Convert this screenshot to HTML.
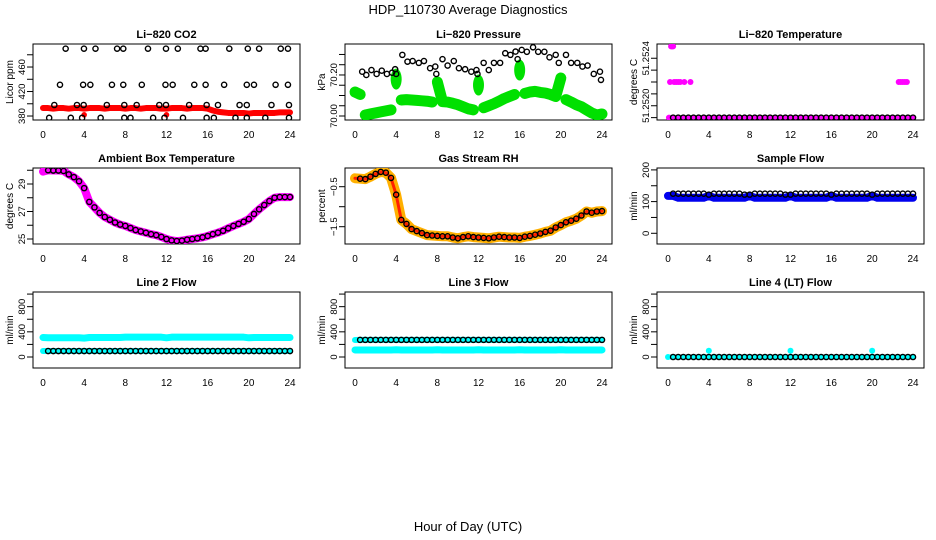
<!DOCTYPE html>
<html><head><meta charset="utf-8"><title>HDP_110730 Average Diagnostics</title>
<style>
html,body{margin:0;padding:0;background:#fff;}
svg{display:block;font-family:"Liberation Sans",Arial,sans-serif;}
</style></head>
<body>
<svg id="chart" width="936" height="540" viewBox="0 0 936 540" xmlns="http://www.w3.org/2000/svg">
<rect x="0" y="0" width="936" height="540" fill="#fff"/>
<text x="468" y="14" font-size="13" text-anchor="middle">HDP_110730  Average Diagnostics</text>
<text x="468" y="531" font-size="13" text-anchor="middle">Hour of Day (UTC)</text>
</svg>
<script>
const HOURS = [0,0.5,1,1.5,2,2.5,3,3.5,4,4.5,5,5.5,6,6.5,7,7.5,8,8.5,9,9.5,10,10.5,11,11.5,12,12.5,13,13.5,14,14.5,15,15.5,16,16.5,17,17.5,18,18.5,19,19.5,20,20.5,21,21.5,22,22.5,23,23.5,24];
const X_TICKS = [0,4,8,12,16,20,24];

// CO2
const co2Red = [393,393,392,393,393,392,393,393,392,393,393,393,392,393,393,393,392,393,393,392,393,393,393,392,392,393,393,393,392,393,393,393,392,389,387,386,385,385,385,385,384,385,385,385,385,385,386,386,386];
const co2BlackX = [2.2,3.98,5.1,7.2,7.8,10.2,11.95,13.1,15.3,15.8,18.1,19.9,21,23.1,23.8, 1.65,3.9,4.6,6.7,7.8,9.6,11.9,12.6,14.7,15.8,17.6,19.8,20.5,22.6,23.8, 1.1,3.3,3.95,6.2,7.9,9.1,11.3,11.95,14.2,15.9,17.0,19.1,19.8,22.2,23.9, 0.6,2.7,3.8,5.6,7.9,8.5,10.7,11.8,13.6,15.9,16.6,18.7,19.8,21.6,23.9];
const co2BlackY = [490,490,490,490,490,490,490,490,490,490,490,490,490,490,490, 431,431,431,431,431,431,431,431,431,431,431,431,431,431,431, 398,398,398,398,398,398,398,398,398,398,398,398,398,398,398, 377,377,377,377,377,377,377,377,377,377,377,377,377,377,377];
const co2RedX = [4.0,12.0];
const co2RedY = [382,382];

// Pressure
const presGreen = [70.117,70.105,70.005,70.010,70.015,70.020,70.025,70.030,70.180,70.078,70.080,70.078,70.076,70.074,70.072,70.068,70.166,70.070,70.068,70.062,70.055,70.045,70.035,70.030,70.151,70.040,70.050,70.060,70.072,70.085,70.095,70.105,70.224,70.110,70.117,70.120,70.115,70.112,70.105,70.095,70.185,70.080,70.068,70.055,70.045,70.030,70.015,70.005,70.010];
const presBlackX = [0.7,1.1,1.6,2.1,2.6,3.1,3.6,3.9,4.0,4.6,5.1,5.6,6.2,6.7,7.3,7.8,7.9,8.5,9.0,9.6,10.1,10.7,11.3,11.8,11.9,12.5,13.0,13.5,14.1,14.6,15.1,15.6,15.8,16.2,16.7,17.3,17.8,18.4,18.9,19.5,19.8,20.5,21.0,21.6,22.1,22.6,23.2,23.8,23.9];
const presBlackY = [70.216,70.200,70.224,70.205,70.221,70.205,70.211,70.228,70.205,70.298,70.265,70.268,70.259,70.268,70.233,70.241,70.205,70.277,70.246,70.268,70.233,70.228,70.216,70.224,70.205,70.259,70.224,70.259,70.259,70.306,70.298,70.314,70.277,70.322,70.313,70.335,70.313,70.313,70.286,70.298,70.259,70.298,70.259,70.259,70.241,70.246,70.205,70.216,70.176];

// Li-820 temperature
const ltMagX = [0.1,0.3,0.4,0.5,0.2,0.6,0.8,1.0,1.2,1.6,2.2,22.6,22.8,23.0,23.2,23.4];
const ltMagY = [51.2519,51.2525,51.2525,51.2525,51.2522,51.2522,51.2522,51.2522,51.2522,51.2522,51.2522,51.2522,51.2522,51.2522,51.2522,51.2522];
const ltBlack = [null,51.2519,51.2519,51.2519,51.2519,51.2519,51.2519,51.2519,51.2519,51.2519,51.2519,51.2519,51.2519,51.2519,51.2519,51.2519,51.2519,51.2519,51.2519,51.2519,51.2519,51.2519,51.2519,51.2519,51.2519,51.2519,51.2519,51.2519,51.2519,51.2519,51.2519,51.2519,51.2519,51.2519,51.2519,51.2519,51.2519,51.2519,51.2519,51.2519,51.2519,51.2519,51.2519,51.2519,51.2519,51.2519,51.2519,51.2519,51.2519];

// Ambient box temperature
const ambTemp = [29.9,30.0,29.98,29.98,29.95,29.7,29.5,29.2,28.7,27.7,27.3,26.9,26.6,26.4,26.2,26.05,25.95,25.8,25.65,25.55,25.45,25.35,25.28,25.15,25.0,24.9,24.85,24.88,24.95,25.0,25.05,25.12,25.22,25.35,25.46,25.6,25.78,25.95,26.1,26.25,26.45,26.82,27.16,27.47,27.76,28.0,28.05,28.05,28.05];

// Gas stream RH
const rhVals = [-0.29,-0.3,-0.31,-0.25,-0.18,-0.13,-0.15,-0.28,-0.7,-1.33,-1.43,-1.56,-1.61,-1.66,-1.71,-1.72,-1.73,-1.74,-1.74,-1.77,-1.79,-1.76,-1.74,-1.76,-1.77,-1.78,-1.79,-1.77,-1.75,-1.76,-1.77,-1.77,-1.78,-1.75,-1.73,-1.7,-1.67,-1.63,-1.6,-1.52,-1.46,-1.39,-1.35,-1.3,-1.22,-1.12,-1.15,-1.12,-1.11];

// Flows
const sampleBlue = [118,118,112,112,112,112,112,112,118,112,112,112,112,112,112,112,118,112,112,112,112,112,112,112,118,112,112,112,112,112,112,112,118,112,112,112,112,112,112,112,118,112,112,112,112,112,112,112,112];
const sampleBlack = [null,125,125,125,125,125,125,125,122,125,125,125,125,125,125,122,122,125,125,125,125,125,125,122,122,125,125,125,125,125,125,125,122,125,125,125,125,125,125,125,122,125,125,125,125,125,125,125,125];
const line2Cyan = [310,305,305,305,305,305,305,305,300,310,310,310,310,310,310,310,315,315,315,315,315,315,315,315,305,315,315,315,315,315,315,315,315,315,315,315,315,315,315,315,305,310,310,310,310,310,310,310,310];
const line2Black = [null,95,95,95,95,95,95,95,95,95,95,95,95,95,95,95,95,95,95,95,95,95,95,95,95,95,95,95,95,95,95,95,95,95,95,95,95,95,95,95,95,95,95,95,95,95,95,95,95];
const line3Cyan = [112,112,112,112,112,112,112,112,115,112,112,112,112,112,112,112,115,112,112,112,112,112,112,112,115,112,112,112,112,112,112,112,115,112,112,112,112,112,112,112,115,112,112,112,112,112,112,112,112];
const line3Black = [270,272,272,272,272,272,272,272,272,272,272,272,272,272,272,272,272,272,272,272,272,272,272,272,272,272,272,272,272,272,272,272,272,272,272,272,272,272,272,272,272,272,272,272,272,272,272,272,272];
const line4Cyan = [0,0,0,0,0,0,0,0,100,0,0,0,0,0,0,0,0,0,0,0,0,0,0,0,100,0,0,0,0,0,0,0,0,0,0,0,0,0,0,0,100,0,0,0,0,0,0,0,0];
const line4Black = [null,0,0,0,0,0,0,0,0,0,0,0,0,0,0,0,0,0,0,0,0,0,0,0,0,0,0,0,0,0,0,0,0,0,0,0,0,0,0,0,0,0,0,0,0,0,0,0,0];

const svg = document.getElementById('chart');
const NS = 'http://www.w3.org/2000/svg';
function mk(tag, attrs, parent) {
  const e = document.createElementNS(NS, tag);
  for (const k in attrs) e.setAttribute(k, attrs[k]);
  (parent || svg).appendChild(e);
  return e;
}

const COLS = [{bx0:33,bx1:300,h0:43,h24:290,lab:21,tit:9},{bx0:345,bx1:612,h0:355,h24:602,lab:333,tit:321},{bx0:657,bx1:924,h0:668,h24:913,lab:645,tit:633}];
const ROWS = [{by0:44,by1:120},{by0:168,by1:244},{by0:292,by1:368}];

function makePanel(name, title, col, row, dmin, dmax, yTicks, yLabels, yTitle) {
  const c = COLS[col], r = ROWS[row];
  const g = mk('g', {});
  
  
  const P = {
    g: g,
    x: h => c.h0 + h * (c.h24 - c.h0) / 24,
    y: v => r.by1 - (v - dmin) / (dmax - dmin) * (r.by1 - r.by0)
  };
  const t = mk('text', {x:(c.bx0+c.bx1)/2, y:r.by0-6, 'font-size':11, 'font-weight':'bold', 'text-anchor':'middle'}, g);
  
  
  t.textContent = title;
  const frame = mk('rect', {x:c.bx0, y:r.by0, width:c.bx1-c.bx0, height:r.by1-r.by0, fill:'none', stroke:'#000', 'stroke-width':1}, g);
  
  
  X_TICKS.forEach(h => {
    const tl = mk('text', {x:P.x(h), y:r.by1+18, 'font-size':10, 'text-anchor':'middle'}, g);
    
    
    tl.textContent = h;
  });
  yTicks.forEach(v => {
    const yy = P.y(v);
    const tk = mk('line', {x1:c.bx0-6, x2:c.bx0, y1:yy, y2:yy, stroke:'#000', 'stroke-width':1}, g);
    
    
  });
  yLabels.forEach(l => {
    const yy = P.y(l[0]);
    const tl = mk('text', {x:c.lab+4, y:yy, 'font-size':9.5, 'text-anchor':'middle', transform:'rotate(-90 '+(c.lab+4)+' '+yy+')'}, g);
    
    
    tl.textContent = l[1];
  });
  const yt = mk('text', {x:c.tit+4, y:(r.by0+r.by1)/2, 'font-size':10, 'text-anchor':'middle', transform:'rotate(-90 '+(c.tit+4)+' '+((r.by0+r.by1)/2)+')'}, g);
  
  
  yt.textContent = yTitle;
  const clip = mk('clipPath', {id:'clip-'+name}, g);
  mk('rect', {x:c.bx0, y:r.by0, width:c.bx1-c.bx0, height:r.by1-r.by0}, clip);
  P.plot = mk('g', {'clip-path':'url(#clip-'+name+')'}, g);
  return P;
}

function band(P, xs, ys, color, w, jump, name) {
  let seg = [];
  const segs = [];
  for (let i = 0; i < xs.length; i++) {
    if (ys[i] === null) continue;
    const pt = [P.x(xs[i]), P.y(ys[i])];
    if (seg.length && Math.abs(pt[1] - seg[seg.length-1][1]) > jump) { segs.push(seg); seg = []; }
    seg.push(pt);
  }
  if (seg.length) segs.push(seg);
  segs.forEach(s => {
    if (s.length === 1) {
      const d = mk('ellipse', {cx:s[0][0], cy:s[0][1], rx:w/2, ry:w/2+5, fill:color}, P.plot);
      
      
    } else {
      const pl = mk('polyline', {points:s.map(p=>p.join(',')).join(' '), fill:'none', stroke:color, 'stroke-width':w, 'stroke-linecap':'round', 'stroke-linejoin':'round'}, P.plot);
      
      
    }
  });
}
function dots(P, xs, ys, color, rad, name) {
  for (let i = 0; i < xs.length; i++) {
    if (ys[i] === null) continue;
    const d = mk('circle', {cx:P.x(xs[i]), cy:P.y(ys[i]), r:rad, fill:color}, P.plot);
    
    
  }
}
function rings(P, xs, ys, color, name) {
  for (let i = 0; i < xs.length; i++) {
    if (ys[i] === null) continue;
    const d = mk('circle', {cx:P.x(xs[i]), cy:P.y(ys[i]), r:2.6, fill:'none', stroke:color, 'stroke-width':1.4}, P.plot);
    
    
  }
}

// Panel 1: CO2
let P = makePanel('co2-panel', 'Li\u2212820 CO2', 0, 0, 373.5, 497.6, [380,400,420,440,460,480], [[380,'380'],[420,'420'],[460,'460']], 'Licor ppm');
band(P, HOURS, co2Red, '#ff0000', 6, 20, 'co2-red');
dots(P, co2RedX, co2RedY, '#ff0000', 2.8, 'co2-red-outlier');
rings(P, co2BlackX, co2BlackY, '#000', 'co2-black-point');

// Panel 2: Pressure
P = makePanel('pressure-panel', 'Li\u2212820 Pressure', 1, 0, 69.9805, 70.351, [70.0,70.05,70.1,70.15,70.2,70.25,70.3], [[70.0,'70.00'],[70.2,'70.20']], 'kPa');
band(P, HOURS, presGreen, '#00e000', 11, 20, 'pressure-green');
rings(P, presBlackX, presBlackY, '#000', 'pressure-black-point');

// Panel 3: Li-820 temp
P = makePanel('li820-temp-panel', 'Li\u2212820 Temperature', 2, 0, 51.25188, 51.25252, [51.2519,51.2520,51.2521,51.2522,51.2523,51.2524], [[51.2520,'51.2520'],[51.2524,'51.2524']], 'degrees C');
band(P, HOURS, ltBlack.map(v => v === null ? 51.2519 : v), '#ff00ff', 4, 20, 'li820-temp-magenta');
dots(P, ltMagX, ltMagY, '#ff00ff', 3, 'li820-temp-magenta-point');
rings(P, HOURS, ltBlack, '#000', 'li820-temp-black-point');

// Panel 4: Ambient
P = makePanel('ambient-temp-panel', 'Ambient Box Temperature', 0, 1, 24.636, 30.164, [25,26,27,28,29,30], [[25,'25'],[27,'27'],[29,'29']], 'degrees C');
band(P, HOURS, ambTemp, '#ff00ff', 8, 30, 'ambient-magenta');
rings(P, HOURS.slice(1), ambTemp.slice(1), '#000', 'ambient-black-point');

// Panel 5: RH
P = makePanel('gas-rh-panel', 'Gas Stream RH', 1, 1, -1.9325, -0.0325, [-0.5,-1.0,-1.5], [[-0.5,'\u22120.5'],[-1.5,'\u22121.5']], 'percent');
band(P, HOURS, rhVals, '#ffb000', 10, 40, 'rh-orange');
band(P, HOURS, rhVals, '#ff2000', 3, 40, 'rh-red');
rings(P, HOURS.slice(1), rhVals.slice(1), '#000', 'rh-black-point');

// Panel 6: Sample flow
P = makePanel('sample-flow-panel', 'Sample Flow', 2, 1, -33.8, 206, [0,50,100,150,200], [[0,'0'],[100,'100'],[200,'200']], 'ml/min');
band(P, HOURS, sampleBlue, '#0000ee', 8, 30, 'sample-blue');
rings(P, HOURS, sampleBlack, '#000', 'sample-black-point');

// Panel 7: Line 2
P = makePanel('line2-flow-panel', 'Line 2 Flow', 0, 2, -175, 1033, [0,200,400,600,800,1000], [[0,'0'],[400,'400'],[800,'800']], 'ml/min');
band(P, HOURS, line2Cyan, '#00ffff', 7, 30, 'line2-cyan');
band(P, HOURS, line2Black.map(v => v === null ? 95 : v), '#00ffff', 6, 30, 'line2-cyan-low');
rings(P, HOURS, line2Black, '#000', 'line2-black-point');

// Panel 8: Line 3
P = makePanel('line3-flow-panel', 'Line 3 Flow', 1, 2, -175, 1033, [0,200,400,600,800,1000], [[0,'0'],[400,'400'],[800,'800']], 'ml/min');
band(P, HOURS, line3Cyan, '#00ffff', 7, 30, 'line3-cyan');
band(P, HOURS, line3Black, '#00ffff', 6, 30, 'line3-cyan-high');
rings(P, HOURS.slice(1), line3Black.slice(1), '#000', 'line3-black-point');

// Panel 9: Line 4
P = makePanel('line4-flow-panel', 'Line 4 (LT) Flow', 2, 2, -175, 1033, [0,200,400,600,800,1000], [[0,'0'],[400,'400'],[800,'800']], 'ml/min');
band(P, HOURS, line4Black.map(v => v === null ? 0 : v), '#00ffff', 5, 30, 'line4-cyan');
dots(P, HOURS, line4Cyan, '#00ffff', 3, 'line4-cyan-point');
rings(P, HOURS, line4Black, '#000', 'line4-black-point');
</script>
</body></html>
